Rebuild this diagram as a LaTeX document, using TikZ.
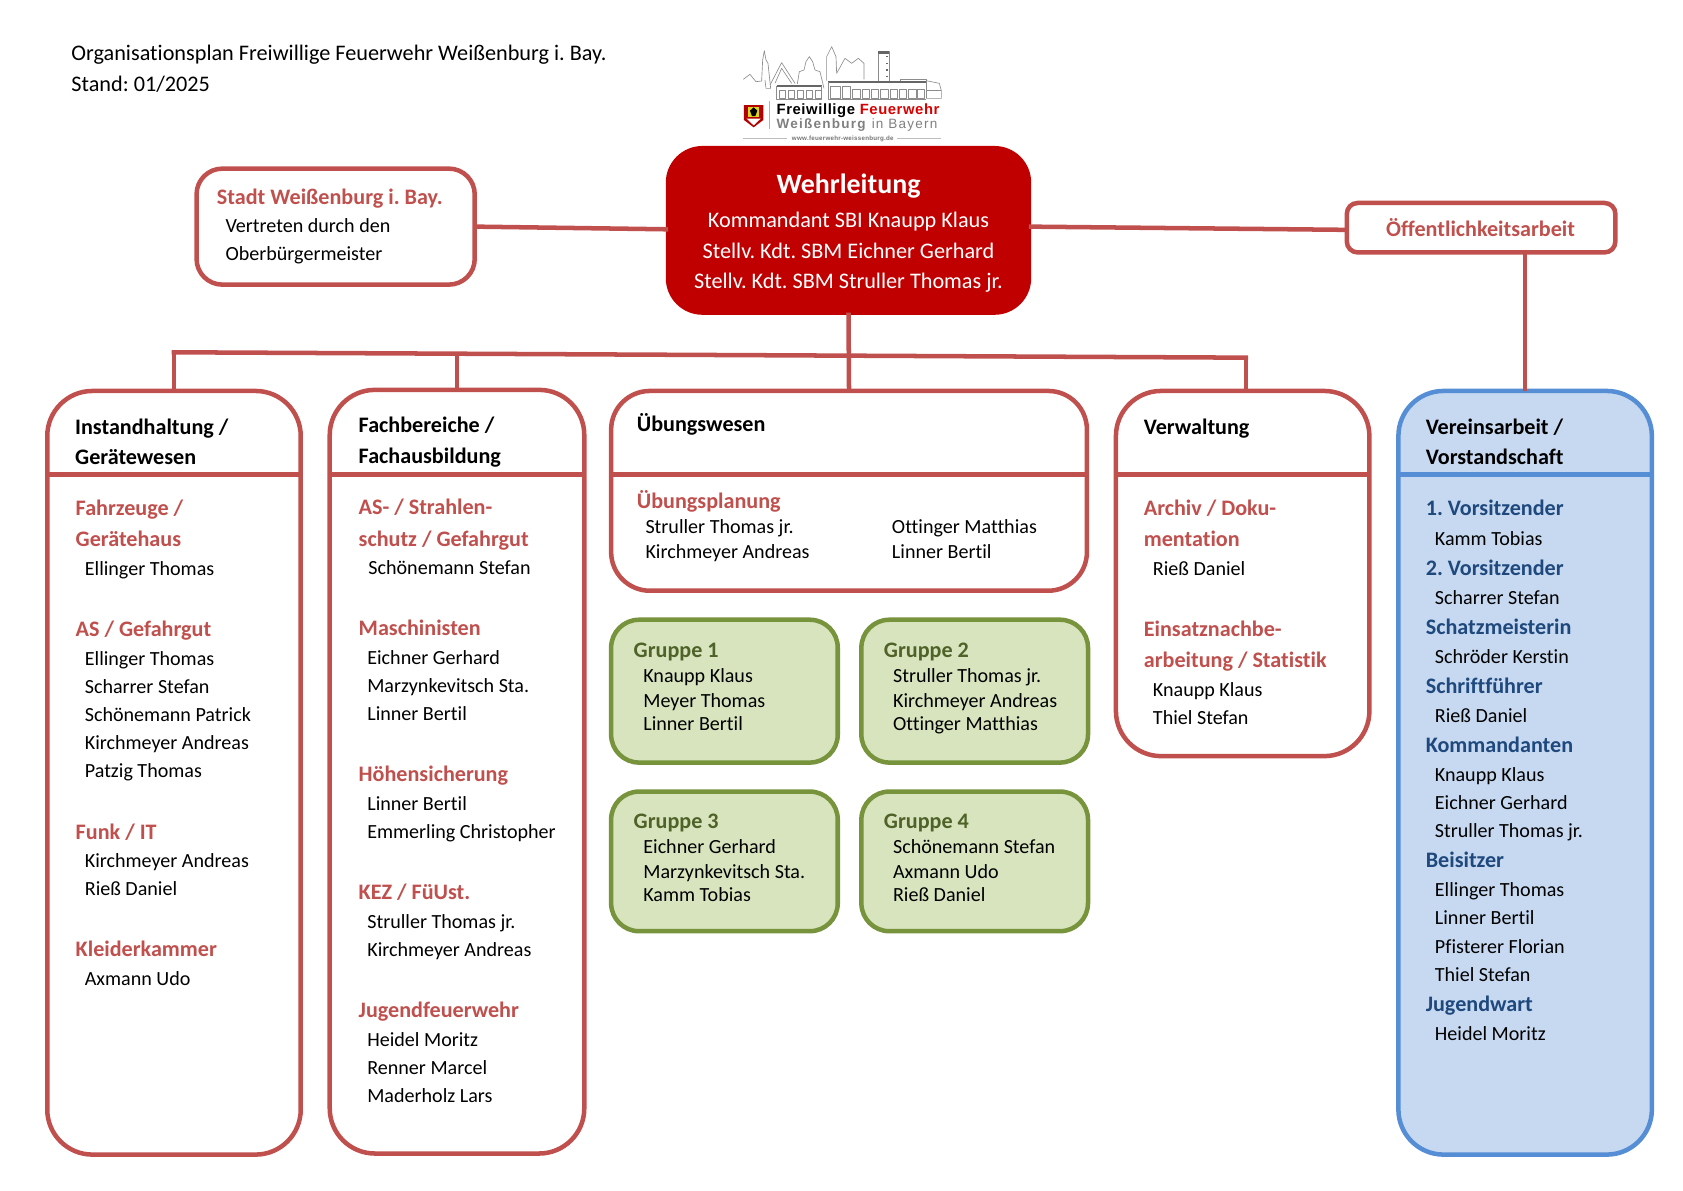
\documentclass[tikz,border=0pt]{standalone}
\usepackage{fontspec}
\setmainfont[Ligatures={NoCommon}]{Carlito}
\newfontfamily\logofont[LetterSpace=4]{Liberation Sans}
\newfontfamily\logofontw[LetterSpace=9]{Liberation Sans}
\frenchspacing
\definecolor{rline}{HTML}{C0504D}
\definecolor{wred}{HTML}{C00000}
\definecolor{bfill}{HTML}{C6D9F1}
\definecolor{bline}{HTML}{558ED5}
\definecolor{btext}{HTML}{1F497D}
\definecolor{gfill}{HTML}{D7E4BD}
\definecolor{gline}{HTML}{77933C}
\definecolor{gtext}{HTML}{4F6228}
\newcounter{tc}
\newcommand{\T}[4]{\stepcounter{tc}\node[lbl,#1,name=t\arabic{tc}] at (#2,#3) {#4};}
\newcommand{\BX}[7]{\node[bx,#2,rounded corners=#7*0.5pt,minimum width={(#5-#3-2)*0.5pt},minimum height={(#6-#4-2)*0.5pt}] (#1) at ({(#3+#5)/2},{(#4+#6)/2}) {};}
\tikzset{
 lbl/.style={anchor=base west,inner sep=0pt,outer sep=0pt,yshift=-0.7pt},
 ctr/.style={anchor=base},
 body/.style={font=\fontsize{9.35}{11}\selectfont,text=black,yshift=0.4pt},
 title/.style={font=\fontsize{10.35}{12}\selectfont,text=black},
 head/.style={font=\fontsize{10.3}{12}\bfseries\selectfont,text=black},
 redh/.style={font=\fontsize{10.3}{12}\bfseries\selectfont,text=rline},
 blueh/.style={font=\fontsize{10.3}{12}\bfseries\selectfont,text=btext},
 greenh/.style={font=\fontsize{10.3}{12}\bfseries\selectfont,text=gtext},
 wt/.style={font=\fontsize{10.35}{12}\selectfont,text=white},
 bx/.style={draw=rline,line width=2.1pt,inner sep=0pt,outer sep=0pt,fill=white},
 grp/.style={draw=gline,fill=gfill},
 blu/.style={draw=bline,fill=bfill},
 conn/.style={draw=rline,line width=2.1pt},
 sk/.style={draw=black!45,line width=0.3pt,line join=round},
 skd/.style={draw=black!60,line width=0.6pt},
}
\begin{document}
\begin{tikzpicture}[x=0.5pt,y=-0.5pt]
\useasboundingbox (0,0) rectangle (1567,1108);
% logo
\begin{scope}[shift={(633.1,18.62)},x=0.1552pt,y=-0.1552pt]
\draw[sk] (190,178)--(210,163)--(228,185)--(245,183)--(248,120)--(253,92)--(258,120)--(264,130)--(272,205)--(258,205)--(255,180);
\draw[sk] (270,195)--(305,128)--(345,190);
\draw[sk] (285,190)--(305,145)--(335,190);
\draw[sk] (352,192)--(358,155)--(372,150)--(378,125)--(388,110)--(398,125)--(405,150)--(420,155)--(432,205);
\draw[sk] (440,182)--(440,110)--(455,80)--(468,110)--(470,160)--(495,115)--(515,130)--(535,115)--(552,130)--(552,178);
\draw[sk] (595,185)--(595,95)--(628,95)--(628,185);
\draw[fill=black!60,draw=none] (595,93) rectangle (628,103);
\foreach \yy in {110,130,150,170} \draw[skd] (618,\yy)--(624,\yy);
\draw[sk] (660,185)--(660,178)--(738,178)--(738,235);
\draw[sk] (738,182)--(778,190)--(784,212)--(784,235)--(738,235);
\draw[sk] (738,212)--(784,212);
\draw[skd] (290,198)--(425,198);
\draw[sk] (290,198)--(290,237)--(425,237)--(425,198);
\foreach \xa in {297,324,351,378,405} \draw[sk] (\xa,210) rectangle +(20,26);
\draw[skd] (444,186)--(738,186);
\draw[sk] (444,186)--(444,237)--(738,237);
\draw[sk] (450,200) rectangle (480,236);
\draw[sk] (486,200) rectangle (512,236);
\foreach \xa in {518,546,574,602,630,658,686,712} \draw[sk] (\xa,208) rectangle +(22,28);
\fill[red!70!black] (192,255)--(250,255)--(250,300)--(221,322)--(192,300)--cycle;
\fill[yellow!85!black] (204,260)--(238,260)--(238,292)--(204,292)--cycle;
\fill[black] (221,262)--(232,272)--(226,288)--(216,288)--(210,272)--cycle;
\fill[white] (200,296)--(242,296)--(221,316)--cycle;
\draw[draw=black!30,line width=0.4pt] (268,243)--(268,328);
\draw[draw=black!25,line width=0.4pt] (190,355)--(322,355);
\draw[draw=black!25,line width=0.4pt] (650,355)--(784,355);
\node[lbl,name=lg1] at (290,279) {\logofont\fontsize{6.9}{8}\bfseries\selectfont Freiwillige \textcolor{red!85!black}{Feuerwehr}};
\node[lbl,name=lg2] at (290,320) {\logofontw\fontsize{6.3}{8}\selectfont\textcolor{black!50}{\textbf{Weißenburg} in Bayern}};
\node[lbl,name=lg3] at (336,357) {\logofont\fontsize{2.9}{3}\bfseries\selectfont\textcolor{black!55}{www.feuerwehr-weissenburg.de}};
\end{scope}
% connectors first
\BX{stadt}{}{182}{156}{443}{266}{24}
\BX{wl}{draw=wred,fill=wred}{621}{137}{959}{292}{32}
\BX{oeff}{}{1253}{188}{1505}{236}{10}
\BX{inst}{}{43}{363}{281}{1076}{42}
\BX{fach}{}{306}{362}{545}{1075}{42}
\BX{ueb}{}{568}{363}{1013}{551}{36}
\BX{verw}{}{1038}{363}{1276}{705}{42}
\BX{verein}{blu}{1301}{363}{1539}{1076}{42}
\BX{g1}{grp}{568}{576}{781}{711}{26}
\BX{g2}{grp}{801}{576}{1014}{711}{26}
\BX{g3}{grp}{568}{736}{781}{868}{26}
\BX{g4}{grp}{801}{736}{1014}{868}{26}
\coordinate (busL) at (162,328);
\coordinate (busF) at (425.5,330);
\coordinate (busR) at (1160,333);
\draw[conn] (stadt.east)--([yshift=0.5pt]wl.west);
\draw[conn] ([yshift=1.75pt]wl.east)--([yshift=-1pt]oeff.west);
\draw[conn] (verein.north |- oeff.south)--(verein.north);
\draw[conn] (wl.south)--(ueb.north);
\draw[conn,line cap=rect] (busL)--(busR);
\draw[conn] (busL)--(inst.north);
\draw[conn] (busF)--(fach.north);
\draw[conn] (busR)--(busR |- verw.north);
% header rules
\foreach \b/\c in {inst/rline,fach/rline,ueb/rline,verw/rline,verein/bline}
  \draw[draw=\c,line width=2.1pt] (\b.west |- 0,442)--(\b.east |- 0,442);
% top texts
\T{title}{66.5}{55}{Organisationsplan Freiwillige Feuerwehr Weißenburg i. Bay.}
\T{title}{66.5}{84}{Stand: 01/2025}
\T{redh}{202}{189}{Stadt Weißenburg i. Bay.}
\T{body}{210}{216}{Vertreten durch den}
\T{body}{210}{242}{Oberbürgermeister}
\T{wt,ctr,font=\fontsize{13}{15}\bfseries\selectfont}{790}{179}{Wehrleitung}
\T{wt,ctr}{790}{210}{Kommandant SBI Knaupp Klaus}
\T{wt,ctr}{790}{239}{Stellv. Kdt. SBM Eichner Gerhard}
\T{wt,ctr}{790}{267}{Stellv. Kdt. SBM Struller Thomas jr.}
\T{redh,ctr}{1378.5}{219}{Öffentlichkeitsarbeit}
% Instandhaltung
\T{head}{70}{403}{Instandhaltung /}
\T{head}{70}{431}{Gerätewesen}
\T{redh}{70.5}{479}{Fahrzeuge /}
\T{redh}{70.5}{507}{Gerätehaus}
\T{body}{79}{535}{Ellinger Thomas}
\T{redh}{70.5}{591}{AS / Gefahrgut}
\T{body}{79}{619}{Ellinger Thomas}
\T{body}{79}{645}{Scharrer Stefan}
\T{body}{79}{671}{Schönemann Patrick}
\T{body}{79}{697}{Kirchmeyer Andreas}
\T{body}{79}{723}{Patzig Thomas}
\T{redh}{70.5}{780}{Funk / IT}
\T{body}{79}{807}{Kirchmeyer Andreas}
\T{body}{79}{833}{Rieß Daniel}
\T{redh}{70.5}{889}{Kleiderkammer}
\T{body}{79}{917}{Axmann Udo}
% Fachbereiche
\T{head}{334}{401}{Fachbereiche /}
\T{head}{334}{430}{Fachausbildung}
\T{redh}{334}{478}{AS- / Strahlen-}
\T{redh}{334}{507}{schutz / Gefahrgut}
\T{body}{343}{534}{Schönemann Stefan}
\T{redh}{334}{590}{Maschinisten}
\T{body}{342}{618}{Eichner Gerhard}
\T{body}{342}{644}{Marzynkevitsch Sta.}
\T{body}{342}{670}{Linner Bertil}
\T{redh}{334}{726}{Höhensicherung}
\T{body}{342}{754}{Linner Bertil}
\T{body}{342}{780}{Emmerling Christopher}
\T{redh}{334}{836}{KEZ / FüUst.}
\T{body}{342}{864}{Struller Thomas jr.}
\T{body}{342}{890}{Kirchmeyer Andreas}
\T{redh}{334}{946}{Jugendfeuerwehr}
\T{body}{342}{974}{Heidel Moritz}
\T{body}{342}{1000}{Renner Marcel}
\T{body}{342}{1026}{Maderholz Lars}
% Uebungswesen
\T{head}{593}{400}{Übungswesen}
\T{redh}{593}{472}{Übungsplanung}
\T{body}{601}{496}{Struller Thomas jr.}
\T{body}{601}{519}{Kirchmeyer Andreas}
\T{body}{830.5}{496}{Ottinger Matthias}
\T{body}{830.5}{519}{Linner Bertil}
% Gruppen
\T{greenh}{590}{611}{Gruppe 1}
\T{body}{599}{635}{Knaupp Klaus}
\T{body}{599}{658}{Meyer Thomas}
\T{body}{599}{680}{Linner Bertil}
\T{greenh}{823}{611}{Gruppe 2}
\T{body}{831.5}{635}{Struller Thomas jr.}
\T{body}{831.5}{658}{Kirchmeyer Andreas}
\T{body}{831.5}{680}{Ottinger Matthias}
\T{greenh}{590}{770}{Gruppe 3}
\T{body}{599}{794}{Eichner Gerhard}
\T{body}{599}{817}{Marzynkevitsch Sta.}
\T{body}{599}{839}{Kamm Tobias}
\T{greenh}{823}{770}{Gruppe 4}
\T{body}{831.5}{794}{Schönemann Stefan}
\T{body}{831.5}{817}{Axmann Udo}
\T{body}{831.5}{839}{Rieß Daniel}
% Verwaltung
\T{head}{1065}{403}{Verwaltung}
\T{redh}{1065}{479}{Archiv / Doku-}
\T{redh}{1065}{507}{mentation}
\T{body}{1073.5}{535}{Rieß Daniel}
\T{redh}{1065}{591}{Einsatznachbe-}
\T{redh}{1065}{620}{arbeitung / Statistik}
\T{body}{1073.5}{648}{Knaupp Klaus}
\T{body}{1073.5}{674}{Thiel Stefan}
% Verein
\T{head}{1327.5}{403}{Vereinsarbeit /}
\T{head}{1327.5}{431}{Vorstandschaft}
\T{blueh}{1327.5}{479}{1. Vorsitzender}
\T{body}{1336}{507}{Kamm Tobias}
\T{blueh}{1327.5}{534}{2. Vorsitzender}
\T{body}{1336}{562}{Scharrer Stefan}
\T{blueh}{1327.5}{589}{Schatzmeisterin}
\T{body}{1336}{617}{Schröder Kerstin}
\T{blueh}{1327.5}{644}{Schriftführer}
\T{body}{1336}{672}{Rieß Daniel}
\T{blueh}{1327.5}{699}{Kommandanten}
\T{body}{1336}{727}{Knaupp Klaus}
\T{body}{1336}{753}{Eichner Gerhard}
\T{body}{1336}{779}{Struller Thomas jr.}
\T{blueh}{1327.5}{806}{Beisitzer}
\T{body}{1336}{834}{Ellinger Thomas}
\T{body}{1336}{860}{Linner Bertil}
\T{body}{1336}{887}{Pfisterer Florian}
\T{body}{1336}{913}{Thiel Stefan}
\T{blueh}{1327.5}{940}{Jugendwart}
\T{body}{1336}{968}{Heidel Moritz}
\end{tikzpicture}
\end{document}
